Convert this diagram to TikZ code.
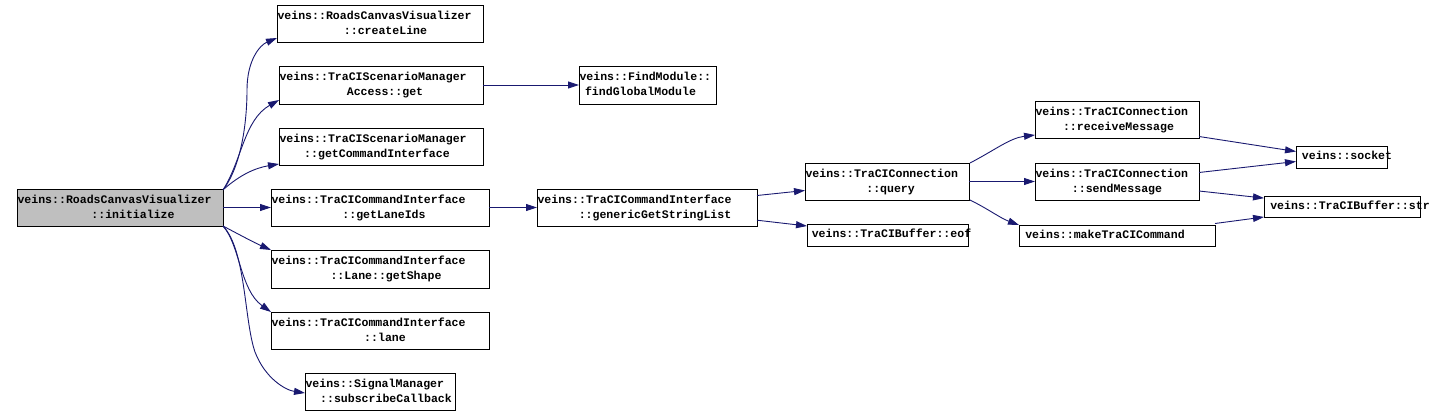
\documentclass[tikz,border=0pt]{standalone}
\usepackage{fontspec}
\newfontfamily\dfont{Liberation Mono}
\usetikzlibrary{arrows.meta,fit}
\definecolor{navy}{HTML}{191970}
\definecolor{grayfill}{HTML}{BFBFBF}
\tikzset{
  box/.style={draw=black,line width=0.9pt,inner sep=0pt,outer sep=0pt},
  txt/.style={inner sep=0pt,outer sep=0pt,font=\dfont\bfseries\fontsize{11.55}{13}\selectfont},
  conn/.style={draw=navy,line width=0.9pt,-{Triangle[length=11pt,width=7pt]}},
}
\newcommand\tbox[9]{%
  \node[box,#9,fit={(#2,#3) (#4,#5)}] (#1) {};
  \node[txt,anchor=base west] (#1a) at ([xshift=0.5pt,yshift=-14.2pt]#1.north west) {#6};
  \node[txt,anchor=base] (#1b) at ([xshift=#8pt,yshift=-29.5pt]#1.north) {#7};}
\newcommand\obox[7]{%
  \node[box,fit={(#2,#3) (#4,#5)}] (#1) {};
  \node[txt,anchor=base] (#1a) at ([xshift=#7pt,yshift=-13.5pt]#1.north) {#6};}
\begin{document}
\begin{tikzpicture}[x=1pt,y=-1pt]
\useasboundingbox (0,0) rectangle (1436,417);
\tbox{init}{17}{189}{223}{226}{veins::RoadsCanvasVisualizer}{::initialize}{13}{fill=grayfill}
\tbox{cline}{277}{5}{483}{42}{veins::RoadsCanvasVisualizer}{::createLine}{5.5}{}
\tbox{get}{279}{66}{483}{104}{veins::TraCIScenarioManager}{Access::get}{4}{}
\tbox{fgm}{579}{66}{716}{104}{veins::FindModule::}{findGlobalModule}{-7}{}
\tbox{gci}{279}{128}{483}{165}{veins::TraCIScenarioManager}{::getCommandInterface}{-4}{}
\tbox{gli}{271}{189}{489}{226}{veins::TraCICommandInterface}{::getLaneIds}{4}{}
\tbox{ggsl}{537}{189}{757}{226}{veins::TraCICommandInterface}{::genericGetStringList}{8}{}
\tbox{gsh}{271}{250}{489}{288}{veins::TraCICommandInterface}{::Lane::getShape}{6}{}
\tbox{lane}{271}{312}{489}{349}{veins::TraCICommandInterface}{::lane}{5}{}
\tbox{subs}{305}{373}{455}{410}{veins::SignalManager}{::subscribeCallback}{6}{}
\tbox{query}{805}{163}{969}{200}{veins::TraCIConnection}{::query}{3.6}{}
\tbox{recv}{1035}{101}{1199}{138}{veins::TraCIConnection}{::receiveMessage}{1.5}{}
\tbox{send}{1035}{163}{1199}{200}{veins::TraCIConnection}{::sendMessage}{0}{}
\obox{eof}{807}{224}{968}{246}{veins::TraCIBuffer::eof}{4}
\obox{make}{1019}{225}{1215}{246}{veins::makeTraCICommand}{-12}
\obox{sock}{1296}{146}{1387}{168}{veins::socket}{5.5}
\obox{str}{1264}{196}{1420}{217}{veins::TraCIBuffer::str}{8}
% connectors from initialize
\draw[conn] ([yshift=-1pt]init.north east) .. controls (242,165) and (247,120) .. (247,90)
  .. controls (247,60) and (260,45) .. ([yshift=4pt]cline.south west);
\draw[conn] ([yshift=-1pt]init.north east) .. controls (242,160) and (244,120) .. ([yshift=4pt]get.south west);
\draw[conn] ([xshift=1pt]init.north east) .. controls (240,175) and (255,168) .. ([yshift=1pt]gci.south west);
\draw[conn] (init.east) -- (gli.west);
\draw[conn] (init.south east) .. controls (240,235) and (255,243) .. (gsh.north west);
\draw[conn] (init.south east) .. controls (240,245) and (240,290) .. (lane.north west);
\draw[conn] (init.south east) .. controls (246,250) and (244,320) .. (255,352)
  .. controls (265,378) and (285,390) .. ([yshift=-1.5pt]subs.west);
% other connectors
\draw[conn] (get.east) -- (fgm.west);
\draw[conn] (gli.east) -- (ggsl.west);
\draw[conn] ([yshift=12pt]ggsl.east) -- ([yshift=-9pt]query.west);
\draw[conn] ([yshift=-12.7pt]ggsl.east) -- ([yshift=9pt]eof.west);
\draw[conn] ([xshift=1pt]query.north east) .. controls (995,150) and (1010,138) .. ([yshift=3pt]recv.south west);
\draw[conn] (query.east) -- (send.west);
\draw[conn] ([xshift=1pt]query.south east) .. controls (990,210) and (1000,218) .. (make.north west);
\draw[conn] ([yshift=1.5pt]recv.south east) -- ([yshift=5.5pt]sock.west);
\draw[conn] ([yshift=9pt]send.east) -- ([yshift=-4.5pt]sock.west);
\draw[conn] ([yshift=-9.5pt]send.east) -- ([yshift=8.4pt]str.west);
\draw[conn] ([yshift=1.5pt]make.north east) -- (str.south west);
\end{tikzpicture}
\end{document}
